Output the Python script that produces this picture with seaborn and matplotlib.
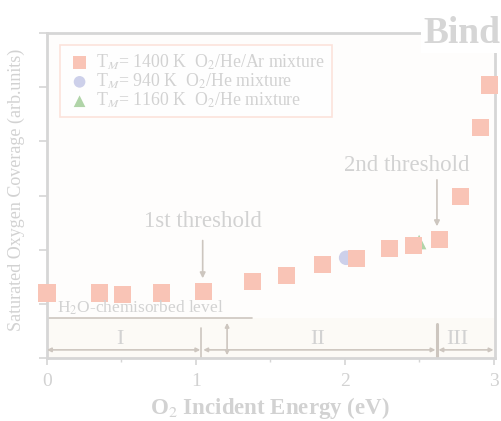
import matplotlib
matplotlib.use("Agg")
import matplotlib.pyplot as plt
import seaborn as sns
import pandas as pd

# Data
ar_energy = [0.0, 0.35, 0.51, 0.77, 1.05, 1.38, 1.61, 1.85, 2.08, 2.30, 2.46, 2.64, 2.78, 2.91, 2.97]
ar_cov = [1.20, 1.20, 1.18, 1.20, 1.22, 1.42, 1.53, 1.73, 1.83, 2.03, 2.08, 2.18, 2.99, 4.26, 5.04]
he940_energy = [2.01]
he940_cov = [1.85]
he1160_energy = [2.50]
he1160_cov = [2.14]
labels = ["T$_M$= 1400 K  O$_2$/He/Ar mixture",
          "T$_M$= 940 K  O$_2$/He mixture",
          "T$_M$= 1160 K  O$_2$/He mixture"]
xticks = [0, 1, 2, 3]

sns.set_theme(style="white")
plt.rcParams['font.family'] = ['Liberation Serif', 'DejaVu Serif']
plt.rcParams['mathtext.fontset'] = 'stix'

TXT = '#d2d2d2'
LINE = '#d6d6d6'
ARR = '#cdc6bf'

fig = plt.figure(figsize=(5.02, 4.21), dpi=100)
ax = fig.add_axes([47/502, (421-358)/421, 448/502, 325/421])
ax.set_facecolor('#fefdfc')

ax.axhspan(0, 0.74, xmin=0, xmax=1, color='#fcfaf6', zorder=0, lw=0)

df1 = pd.DataFrame({"E": ar_energy, "C": ar_cov})
df2 = pd.DataFrame({"E": he940_energy, "C": he940_cov})
df3 = pd.DataFrame({"E": he1160_energy, "C": he1160_cov})
sns.scatterplot(data=df1, x="E", y="C", marker='s', s=150, color='#f9c4b6', edgecolor='none', label=labels[0], ax=ax, zorder=3, clip_on=False)
sns.scatterplot(data=df2, x="E", y="C", marker='o', s=110, color='#cdd0ea', edgecolor='none', label=labels[1], ax=ax, zorder=2, clip_on=False)
sns.scatterplot(data=df3, x="E", y="C", marker='^', s=110, color='#b0d4a8', edgecolor='none', label=labels[2], ax=ax, zorder=2, clip_on=False)

ax.set_xlim(0, 3.01)
ax.set_ylim(0, 6)
ax.set_xticks(xticks)
ax.set_xticklabels([str(t) for t in xticks])
ax.set_xticks([0.5, 1.5, 2.5], minor=True)
ax.set_yticks(range(0, 7))
ax.set_yticklabels([])
ax.tick_params(axis='both', which='both', direction='out', color=LINE, labelcolor=TXT, labelsize=14)
ax.tick_params(axis='x', which='major', length=5, width=1.2, bottom=True, pad=6)
ax.tick_params(axis='x', which='minor', length=3, width=1, bottom=True)
ax.tick_params(axis='y', which='major', length=6, width=1.2, left=True)
for sp in ax.spines.values():
    sp.set_color(LINE)
    sp.set_linewidth(2)

ax.set_xlabel("O$_2$ Incident Energy (eV)", fontsize=16.5, fontweight='bold', color=TXT)
ax.xaxis.set_label_coords((270 - 47) / 448, (358 - 408) / 325)
ax.xaxis.label.set_va('center')
ax.set_ylabel("Saturated Oxygen Coverage (arb.units)", fontsize=13, color=TXT)
ax.yaxis.set_label_coords((16 - 47) / 448, (358 - 190) / 325)
ax.yaxis.label.set_va('center')

leg = ax.legend(loc='upper left', bbox_to_anchor=((60 - 47) / 448, (358 - 45) / 325), fontsize=12.8,
                frameon=True, fancybox=False, edgecolor='#fbdcd3', handletextpad=0.25,
                handlelength=1.4, borderpad=0.4, labelspacing=0.0, markerscale=0.8,
                borderaxespad=0)
leg.get_frame().set_linewidth(1.2)
for t in leg.get_texts():
    t.set_color(TXT)

# annotations
ax.text(1.046, 2.52, "1st threshold", ha='center', va='center', fontsize=16.5, color=TXT)
ax.annotate("", xy=(1.046, 1.42), xytext=(1.046, 2.22),
            arrowprops=dict(arrowstyle='-|>', color=ARR, lw=1.2, mutation_scale=8))
ax.text(2.42, 3.56, "2nd threshold", ha='center', va='center', fontsize=16.5, color=TXT)
ax.annotate("", xy=(2.62, 2.38), xytext=(2.62, 3.34),
            arrowprops=dict(arrowstyle='-|>', color=ARR, lw=1.2, mutation_scale=8))

ax.plot([0, 1.375], [0.74, 0.74], color=ARR, lw=1.2, zorder=2)
ax.text(0.065, 0.76, "H$_2$O-chemisorbed level", ha='left', va='bottom', fontsize=12.5, color=TXT)

ax.plot([1.035, 1.035], [0, 0.55], color=ARR, lw=1.2, zorder=2)
ax.annotate("", xy=(1.21, 0.0), xytext=(1.21, 0.70),
            arrowprops=dict(arrowstyle='<|-|>', color=ARR, lw=1.2, mutation_scale=6))
ax.plot([2.62, 2.62], [0, 0.62], color=ARR, lw=2.2, zorder=2)

for x0, x1 in [(0.0, 1.03), (1.05, 2.61), (2.63, 3.0)]:
    ax.annotate("", xy=(x1, 0.15), xytext=(x0, 0.15),
                arrowprops=dict(arrowstyle='<|-|>', color=ARR, lw=1.2, mutation_scale=6,
                                shrinkA=0, shrinkB=0))

ax.text(0.49, 0.34, "I", ha='center', va='center', fontsize=16, color=TXT)
ax.text(1.82, 0.34, "II", ha='center', va='center', fontsize=16, color=TXT)
ax.text(2.76, 0.34, "III", ha='center', va='center', fontsize=16, color=TXT)

fig.text(423/502, 1 - 43/421, "Bind", fontsize=27, fontweight='bold', color='#d6d6d6',
         ha='left', va='baseline',
         bbox=dict(facecolor='white', edgecolor='none', pad=1))

fig.savefig("out.png", dpi=100, facecolor='white')
